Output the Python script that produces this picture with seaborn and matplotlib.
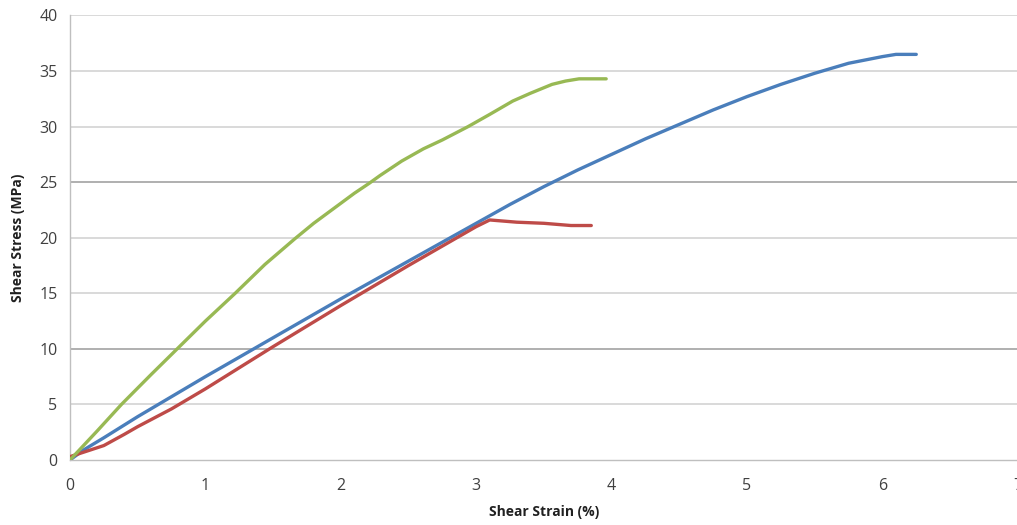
import matplotlib
matplotlib.use("Agg")
import matplotlib.pyplot as plt
import seaborn as sns
import pandas as pd

# Data
green_x = [0.0, 0.2, 0.38, 0.6, 0.8, 1.0, 1.22, 1.44, 1.66, 1.8, 1.9, 2.0, 2.1, 2.21, 2.29, 2.45,
           2.61, 2.75, 2.94, 3.1, 3.27, 3.4, 3.56, 3.66, 3.76, 3.96]
green_y = [0.0, 2.6, 5.0, 7.7, 10.1, 12.5, 15.0, 17.6, 19.9, 21.3, 22.2, 23.1, 24.0, 24.9, 25.6, 26.9,
           28.0, 28.8, 30.0, 31.1, 32.3, 33.0, 33.8, 34.1, 34.3, 34.3]

blue_x = [0.0, 0.1, 0.25, 0.5, 0.75, 1.0, 1.5, 2.0, 2.5, 3.0, 3.25, 3.5, 3.75, 4.0, 4.25, 4.5,
          4.75, 5.0, 5.25, 5.5, 5.75, 6.0, 6.1, 6.25]
blue_y = [0.0, 0.9, 2.0, 3.9, 5.7, 7.5, 11.0, 14.5, 17.9, 21.3, 23.0, 24.6, 26.1, 27.5, 28.9, 30.2,
          31.5, 32.7, 33.8, 34.8, 35.7, 36.3, 36.5, 36.5]

red_x = [0.0, 0.1, 0.25, 0.4, 0.5, 0.75, 1.0, 1.25, 1.5, 2.0, 2.5, 3.0, 3.1, 3.3, 3.5, 3.7, 3.85]
red_y = [0.3, 0.7, 1.3, 2.3, 3.0, 4.6, 6.4, 8.3, 10.2, 13.9, 17.5, 21.0, 21.6, 21.4, 21.3, 21.1, 21.1]

x_ticks = [0, 1, 2, 3, 4, 5, 6, 7]
y_ticks = [0, 5, 10, 15, 20, 25, 30, 35, 40]

frames = []
for name, xs, ys in [("Blue", blue_x, blue_y), ("Red", red_x, red_y), ("Green", green_x, green_y)]:
    frames.append(pd.DataFrame({"strain": xs, "stress": ys, "series": name}))
df = pd.concat(frames, ignore_index=True)

sns.set_theme(style="white")
plt.rcParams['font.family'] = ['Open Sans', 'DejaVu Sans']

fig = plt.figure(figsize=(10.17, 5.25), dpi=100)
ax = fig.add_axes([0.0688, 0.1238, 0.932, 0.8467])

palette = {"Blue": "#4A7EBB", "Red": "#BE4B48", "Green": "#98B954"}
sns.lineplot(data=df, x="strain", y="stress", hue="series", palette=palette,
             sort=False, estimator=None, linewidth=2.4, legend=False, ax=ax, zorder=3)

ax.set_xlim(0, 7)
ax.set_ylim(0, 40)
ax.set_xticks(x_ticks)
ax.set_yticks(y_ticks)
ax.set_xticklabels([str(t) for t in x_ticks])
ax.set_yticklabels([str(t) for t in y_ticks])

for t in y_ticks:
    if t == 0:
        continue
    col = "#9a9a9a" if t in (10, 25) else "#d0d0d0"
    ax.axhline(t, color=col, linewidth=1.1, zorder=1)

for s in ["top", "right"]:
    ax.spines[s].set_visible(False)
for s in ["left", "bottom"]:
    ax.spines[s].set_color("#bfbfbf")
    ax.spines[s].set_linewidth(1.0)

ax.tick_params(axis="both", which="both", direction="out", length=5, width=1,
               color="#bfbfbf", labelsize=11.5, labelcolor="#404040", pad=4)
ax.tick_params(axis="x", pad=8)

ax.set_xlabel("Shear Strain (%)", fontsize=10, fontweight="bold", color="#202020", labelpad=8)
ax.set_ylabel("Shear Stress (MPa)", fontsize=10, fontweight="bold", color="#202020", labelpad=10)

fig.savefig("out.png", dpi=100)
